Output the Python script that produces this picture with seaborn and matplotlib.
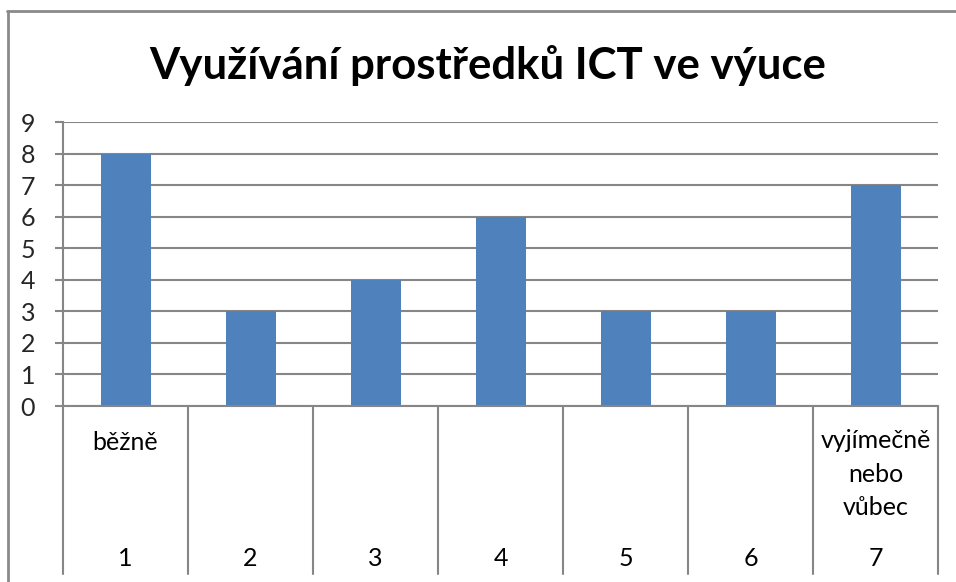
import matplotlib
matplotlib.use("Agg")
import matplotlib.pyplot as plt
import seaborn as sns
import pandas as pd
from matplotlib.lines import Line2D

# data
categories = ["1", "2", "3", "4", "5", "6", "7"]
values = [8, 3, 4, 6, 3, 3, 7]
group_labels = ["běžně", "", "", "", "", "", "vyjímečně\nnebo\nvůbec"]
title = "Využívání prostředků ICT ve výuce"

BAR = "#4F81BD"
GRID = "#868686"

sns.set_theme(style="white")
plt.rcParams["font.family"] = ["Lato", "DejaVu Sans"]

W, H = 956, 582
fig = plt.figure(figsize=(W / 100, H / 100), dpi=100)
ax = fig.add_axes([63 / W, (H - 406) / H, (938 - 63) / W, (406 - 122) / H])

df = pd.DataFrame({"cat": categories, "val": values})
sns.barplot(data=df, x="cat", y="val", color=BAR, width=0.4, saturation=1,
            linewidth=0, ax=ax)

ax.set_xlim(-0.5, len(categories) - 0.5)
ax.set_ylim(0, 9)
ax.set_yticks(range(0, 10))
ax.set_xticks([])
ax.set_xlabel("")
ax.set_ylabel("")
ax.set_axisbelow(True)
ax.yaxis.grid(True, color=GRID, linewidth=1.5)
ax.tick_params(axis="y", length=6, width=1.5, color=GRID, pad=14, labelsize=18, left=True)

for side in ["top", "right"]:
    ax.spines[side].set_visible(False)
for side in ["left", "bottom"]:
    ax.spines[side].set_color(GRID)
    ax.spines[side].set_linewidth(1.5)

# multi-level category axis: divider lines and labels below the plot area
trans = ax.get_xaxis_transform()
axis_h = 406 - 122
low = -(574 - 406) / axis_h
for i in range(len(categories) + 1):
    ax.add_line(Line2D([i - 0.5, i - 0.5], [0, low], transform=trans,
                       color=GRID, linewidth=1.5, clip_on=False))

for i, (c, g) in enumerate(zip(categories, group_labels)):
    ax.text(i, -(558 - 406) / axis_h, c, transform=trans, ha="center", va="center",
            fontsize=18, color="black")
    if g:
        n = g.count("\n") + 1
        yc = 442 + (n - 1) * 16
        ax.text(i, -(yc - 406) / axis_h, g, transform=trans, ha="center", va="center",
                fontsize=18, color="black", linespacing=1.53)

fig.text(488 / W, (H - 65) / H, title, ha="center", va="center",
         fontsize=31.5, fontweight="bold", color="black")

# chart area border (cut off at right and bottom)
fig.add_artist(Line2D([7.5 / W, 7.5 / W], [0, (H - 11) / H], transform=fig.transFigure,
                      color="#8a8a8a", linewidth=2))
fig.add_artist(Line2D([7 / W, 1], [(H - 11) / H, (H - 11) / H], transform=fig.transFigure,
                      color="#8a8a8a", linewidth=2))

fig.savefig("out.png", dpi=100)
